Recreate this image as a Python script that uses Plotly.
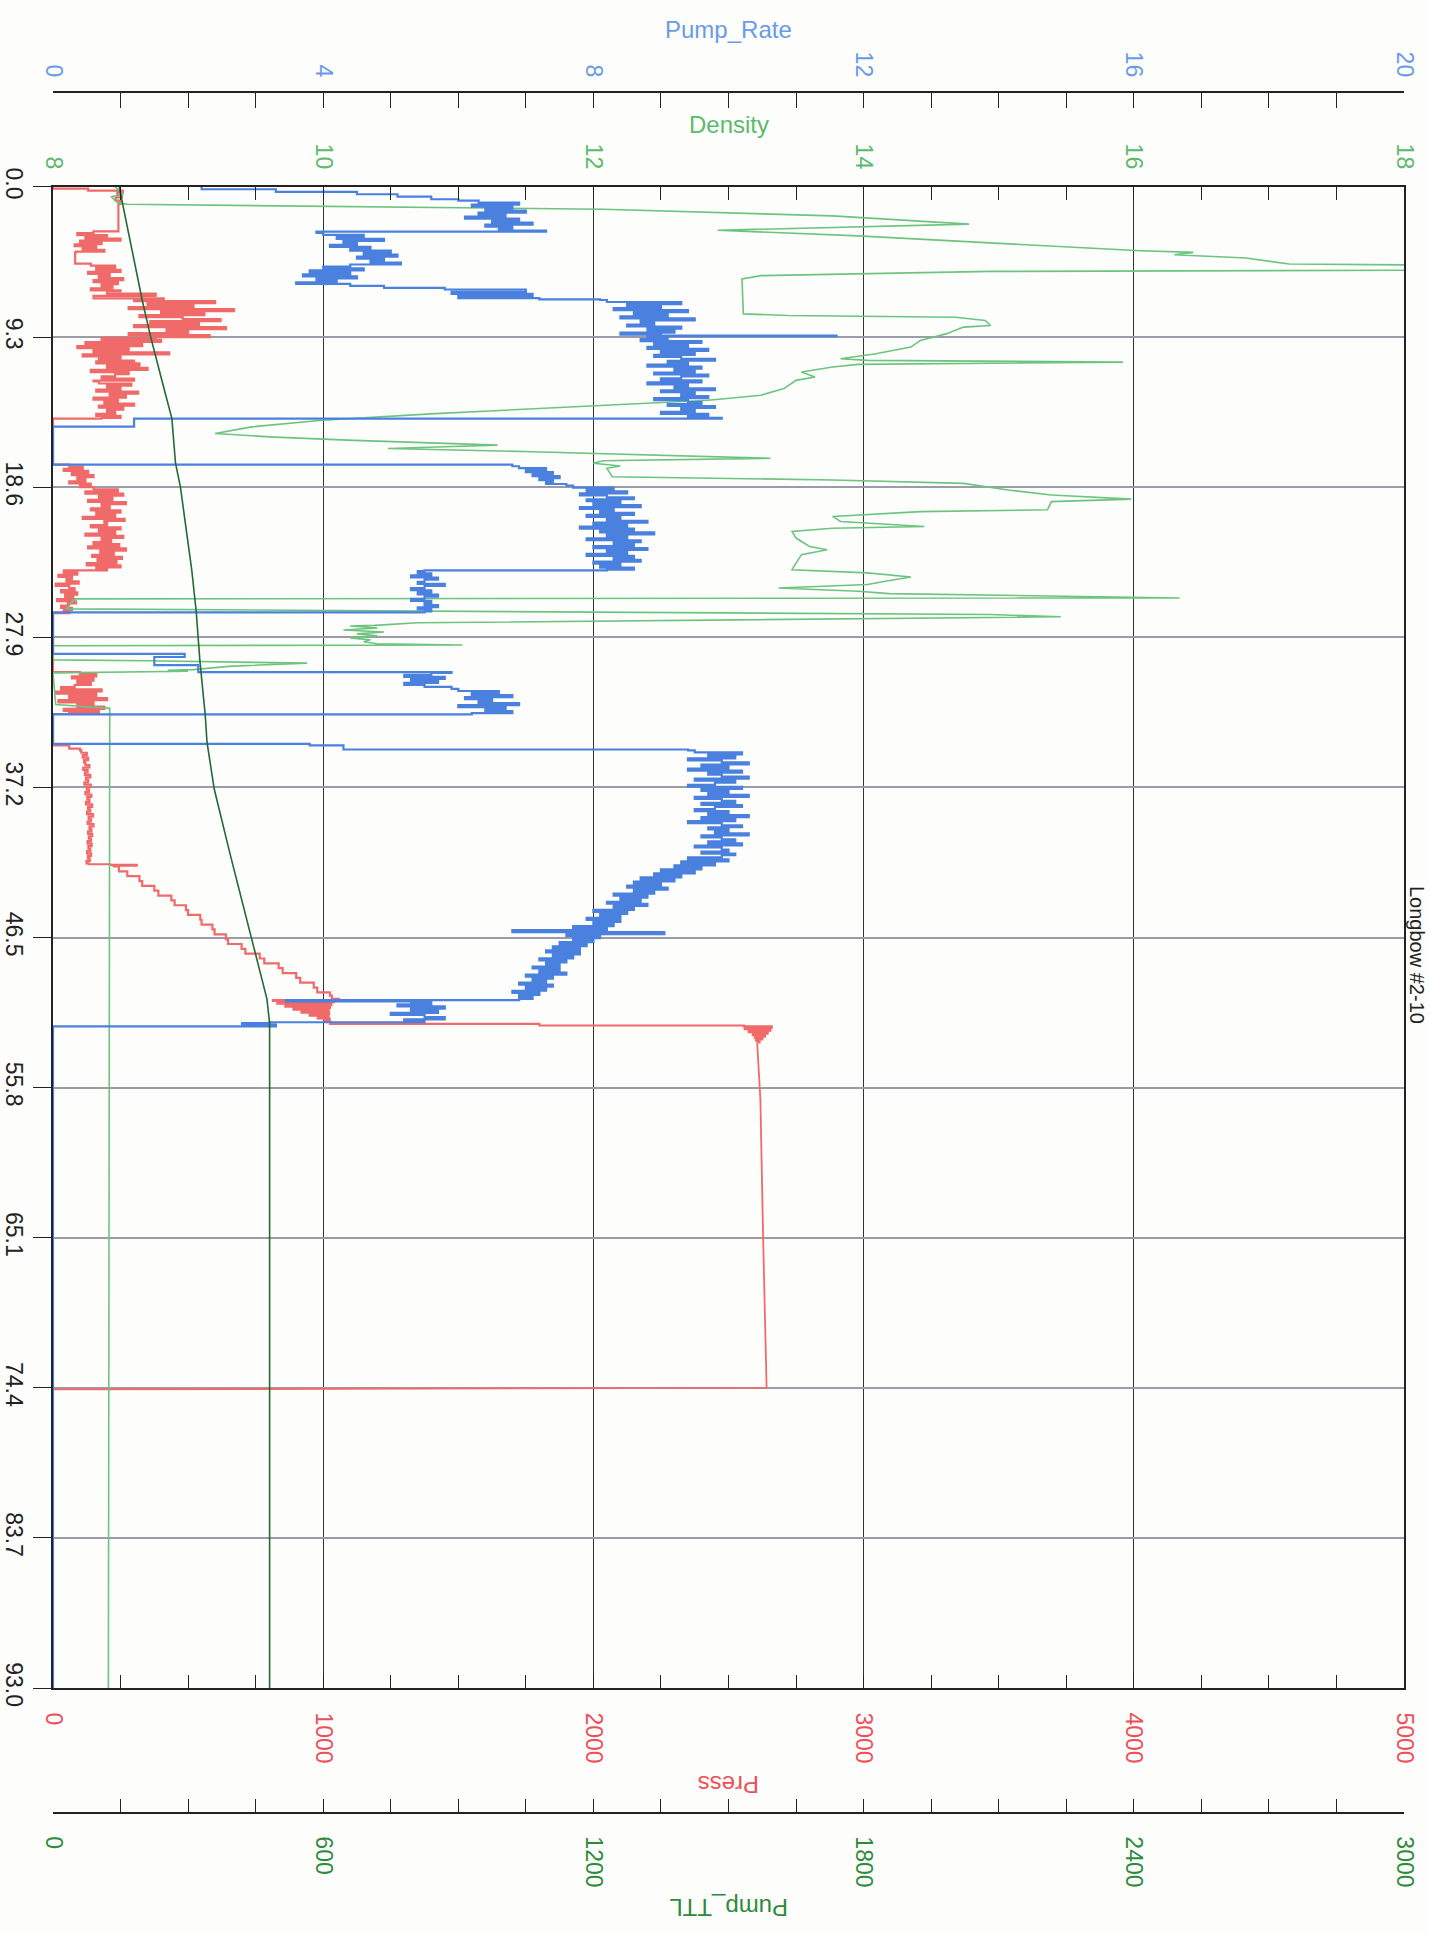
import numpy as np
import plotly.graph_objects as go

FONT = "Liberation Sans"

# ---------------- axis ticks ----------------
time_ticks = [0.0, 9.3, 18.6, 27.9, 37.2, 46.5, 55.8, 65.1, 74.4, 83.7, 93.0]
time_labels = ["0.0", "9.3", "18.6", "27.9", "37.2", "46.5", "55.8", "65.1", "74.4", "83.7", "93.0"]
press_ticks = [0, 1000, 2000, 3000, 4000, 5000]
rate_ticks = [0, 4, 8, 12, 16, 20]
density_ticks = [8, 10, 12, 14, 16, 18]
ttl_ticks = [0, 600, 1200, 1800, 2400, 3000]

# ---------------- Pump_Rate ----------------
rate_a_t = [0.0, 0.14, 0.30, 0.45, 0.60, 0.76]
rate_a_v = [2.2, 3.3, 4.5, 5.1, 5.6, 6.0]
rate_band1 = [6.3, 6.9, 6.2, 6.8, 6.4, 7.0, 6.3, 6.7, 6.1, 6.9, 6.5, 7.1, 6.4, 6.8, 6.6, 7.3]  # 0.85-2.70
rate_b_t = [2.76]
rate_b_v = [3.9]
rate_band2 = [4.0, 4.6, 4.2, 4.9, 4.3, 4.5, 4.1, 4.7, 4.4, 5.0, 4.6, 5.1, 4.5, 4.9, 4.7, 5.15,
              4.4, 4.0, 4.6, 3.8, 4.4, 3.7, 4.5, 3.9, 4.2, 3.6]  # 2.85-5.90
rate_c_t = [6.00, 6.12, 6.25, 6.35, 6.50, 6.62, 6.75, 6.88, 6.96]
rate_c_v = [4.4, 4.9, 5.8, 7.0, 5.9, 7.1, 6.0, 7.2, 8.1]
rate_band3 = [8.2, 9.3, 8.5, 9.0, 8.3, 9.4, 8.6, 9.1, 8.4, 9.5, 8.7, 8.9, 8.5, 9.3, 8.8, 9.2, 8.4, 9.0]  # 7.0-9.15
rate_d_t = [9.20, 9.24]
rate_d_v = [11.6, 8.8]
rate_band4 = [9.1, 8.7, 9.6, 8.9, 9.4, 8.8, 9.7, 9.0, 9.5, 8.9, 9.3, 9.8, 9.1, 9.4, 8.8, 9.6, 9.2, 9.5,
              8.9, 9.7, 9.3, 9.0, 9.6, 8.8, 9.4, 9.2, 9.8, 9.0, 9.5, 9.3, 9.7, 8.9, 9.4, 9.6, 9.1, 9.8,
              9.3, 9.5, 9.0, 9.7, 9.4, 9.9]  # 9.3-14.3
rate_e_t = [14.35, 14.80, 14.85, 17.10, 17.20]
rate_e_v = [1.2, 1.2, 0.0, 0.0, 6.8]
rate_band5 = [6.9, 7.3, 7.0, 7.4, 7.1, 7.5, 7.2, 7.4, 7.3, 7.6]  # 17.3-18.4
rate_band6 = [7.7, 8.3, 7.9, 8.5, 7.8, 8.2, 8.6, 7.9, 8.4, 8.0, 8.7, 7.8, 8.3, 8.1, 8.6, 7.9, 8.4, 8.2,
              8.8, 8.0, 8.5, 7.8, 8.6, 8.1, 8.9, 8.2, 8.5, 7.9, 8.7, 8.3, 8.6, 8.0, 8.8, 8.2, 8.5, 7.9,
              8.6, 8.3, 8.7, 8.0, 8.4, 8.1, 8.6, 8.2]  # 18.5-23.7
rate_f_t = [23.75]
rate_f_v = [5.5]
rate_band7 = [5.4, 5.6, 5.3, 5.7, 5.5, 5.4, 5.8, 5.5, 5.3, 5.6, 5.4, 5.7, 5.5, 5.3, 5.6, 5.5, 5.7, 5.4,
              5.6, 5.5]  # 23.8-26.3
rate_g_t = [26.35, 28.90, 28.93, 29.10, 29.12, 29.60, 29.62, 30.00, 30.06]
rate_g_v = [0.0, 0.0, 1.95, 1.95, 1.5, 1.5, 2.15, 2.15, 5.9]
rate_band8 = [5.6, 5.2, 5.8, 5.3, 5.7, 5.2, 5.5, 5.9, 6.0, 6.6, 6.2, 6.8, 6.1, 6.5, 6.3, 6.9, 6.0,
              6.7, 6.4, 6.8, 6.2]  # 30.1-32.6
rate_h_t = [32.67, 34.44, 34.50, 34.60, 34.85]
rate_h_v = [0.0, 0.0, 3.8, 4.3, 9.4]
rate_band9 = [9.5, 10.2, 9.7, 10.1, 9.4, 9.9, 10.3, 9.6, 10.0, 9.4, 10.2, 9.7, 9.9, 10.3, 9.5, 10.1,
              9.8, 9.4, 10.2, 9.6, 10.0, 9.7, 10.3, 9.5, 9.9, 10.1, 9.6, 10.2, 9.8, 9.5, 10.0, 9.7,
              10.3, 9.6, 10.1, 9.4, 9.9, 10.2, 9.7, 10.0, 9.8, 10.3, 9.6, 9.9, 10.1, 9.7, 10.2, 9.5,
              9.9, 10.0, 9.6, 10.1]  # 34.9-41.3
rate_band10 = [9.9, 9.4, 10.0, 9.3, 9.8, 9.2, 9.6,
               9.0, 9.5, 8.9, 9.3, 8.7, 9.2, 8.6, 9.0,
               8.5, 9.1, 8.6, 8.9, 8.3, 8.8, 8.4, 8.7,
               8.2, 8.8, 8.3, 8.6, 8.0, 8.5, 8.1, 8.4,
               7.9, 8.4, 8.0, 8.3, 7.7, 8.2, 6.8, 9.05,
               7.6, 8.1, 7.7, 8.0, 7.5, 7.9, 7.4, 7.8,
               7.3, 7.8, 7.4, 7.7, 7.2, 7.6, 7.3, 7.5,
               7.1, 7.5, 7.2, 7.6, 7.0, 7.4, 7.1, 7.3,
               6.9, 7.4, 7.0, 7.3, 6.8, 7.2, 6.9, 7.1, 6.9]  # 41.4-50.3
rate_i_t = [50.38, 50.45]
rate_i_v = [3.45, 5.3]
rate_band11 = [5.6, 5.1, 5.8, 5.3, 5.7, 5.0, 5.5, 5.8, 5.2, 5.5]  # 50.5-51.7
rate_j_t = [51.75, 51.80, 51.90, 52.00, 93.0]
rate_j_v = [3.2, 2.8, 3.3, 0.0, 0.0]

# ---------------- Press ----------------
press_a_t = [0.0, 0.10, 0.22, 0.35, 0.50, 0.65, 0.85, 1.05, 2.70]
press_a_v = [0, 130, 258, 238, 255, 232, 250, 242, 242]
press_band1 = [150, 90, 200, 120, 250, 100, 180, 80, 160, 110, 190, 85]  # 2.75-4.0
press_b_t = [4.05, 4.70]
press_b_v = [82, 82]
press_band2 = [140, 230, 160, 250, 130, 210, 170, 260, 150, 240, 180, 220, 140, 250]  # 4.75-6.40
press_band3 = [200, 380, 150, 410]  # 6.45-6.90
press_band4 = [300, 600, 350, 520, 280, 670, 400, 560, 320, 480, 620, 360, 540, 300, 640, 420, 500,
               280, 580, 380]  # 6.95-9.30
press_band5 = [180, 400, 120, 330, 90, 280, 150, 430, 110, 250, 170, 300]  # 9.35-10.75
press_band6 = [160, 320, 200, 350, 140, 280, 230, 180, 300, 150]  # 10.8-12.0
press_band7 = [170, 290, 200, 250, 160, 315, 210, 270, 150, 240, 190, 300, 170, 260, 200, 230, 160,
               250, 180]  # 12.05-14.3
press_c_t = [14.35, 17.15]
press_c_v = [0, 0]
press_band8 = [60, 110, 40, 130, 70, 150, 90, 120, 60, 140, 100]  # 17.2-18.5
press_band9 = [150, 240, 120, 260, 170, 220, 130, 270, 180, 210, 140, 250, 160, 230, 110, 265, 190,
               200, 140, 250, 170, 230, 120, 260, 180, 215, 150, 245, 130, 270, 175, 225, 145, 255,
               165, 235, 125, 250, 160, 200]  # 18.6-23.7
press_band10 = [40, 90, 20, 70, 50, 95, 10, 60, 80, 30, 90, 45, 75, 15, 85, 55, 30, 70, 40, 60]  # 23.75-26.35
press_d_t = [26.40, 30.0]
press_d_v = [0, 0]
press_band11 = [100, 160, 70, 150, 90, 140, 80, 30, 180, 10, 160, 60, 200, 20, 150, 90, 190, 40,
                170, 60]  # 30.05-32.6
press_e_t = [32.65, 34.45, 34.60, 34.80]
press_e_v = [0, 0, 60, 100]
press_band12 = [105, 125, 110, 130, 115, 120, 135, 112, 128, 118, 138, 122, 130, 116, 140, 125, 133,
                120, 142, 127, 135, 122, 145, 130, 138, 126, 148, 132, 140, 128, 150, 135, 142, 130,
                145, 133, 140, 128, 143, 131, 138, 126, 141, 129, 136, 124, 132]  # 34.9-41.9
press_f_t = [41.96, 42.00, 42.05, 42.10, 42.40, 42.70, 43.00, 43.30, 43.60, 43.90, 44.20, 44.50,
             44.80, 45.10, 45.40, 45.70, 46.00, 46.30, 46.60, 46.90, 47.20, 47.50, 47.80, 48.10,
             48.40, 48.70, 49.00, 49.30, 49.60, 49.90, 50.10, 50.30, 50.38]
press_f_v = [212, 310, 225, 244, 275, 320, 330, 375, 390, 438, 450, 492, 500, 545, 550, 590, 598,
             640, 648, 698, 712, 765, 782, 835, 850, 900, 915, 965, 978, 1025, 1032, 1058, 814]
press_band13 = [1040, 830, 1030, 860, 1025, 890, 1020, 920, 1022, 950, 1020, 980, 1024, 1005, 1026]  # 50.42-51.70
press_g_t = [51.75, 51.85, 51.95]
press_g_v = [1026, 1800, 2557]
press_band14 = [2660, 2560, 2655, 2575, 2645, 2590, 2635, 2598, 2625, 2603, 2615, 2606]  # 52.0-53.0
# steady section after the pressure test starts (drawn as a plain line)
press_h_t = [53.0, 56.5, 65.0, 74.4, 74.5, 93.0]
press_h_v = [2606, 2618, 2628, 2641, 0, 0]

# ---------------- Density ----------------
dens_a_t = [0.0, 0.45, 0.60, 0.76, 0.97, 1.07, 1.38, 1.79, 2.10, 2.30, 2.68, 3.03, 3.75, 3.95, 4.05,
            4.20, 4.40, 4.63, 4.77, 4.86, 5.02, 5.15, 5.23, 5.49, 5.70, 7.86, 7.96, 8.07, 8.27, 8.58,
            8.68, 9.10, 9.51, 9.92, 10.33, 10.64, 10.74, 10.85, 10.91, 10.99, 11.15, 11.46, 11.77,
            11.98, 12.49, 12.90, 13.21, 13.62, 14.04, 14.45, 14.86, 15.27, 15.48, 15.68, 15.99,
            16.09, 16.20, 16.40, 16.61, 16.81, 16.96, 17.12, 17.29, 17.43, 17.95, 18.15, 18.36,
            18.77, 19.08, 19.34, 19.49, 20.00, 20.11, 20.41, 20.72, 21.03, 21.14, 21.34, 21.75,
            22.27, 22.47, 22.78, 23.30, 23.71, 23.91, 24.16, 24.43, 24.63, 24.84, 25.05, 25.19,
            25.35, 25.46, 25.52, 26.14, 26.49, 26.63, 27.00, 27.16]
dens_a_v = [8.46, 8.52, 8.43, 8.45, 8.48, 8.55, 12.07, 13.77, 14.42, 14.78, 12.92, 13.96, 15.59,
            16.05, 16.44, 16.30, 16.83, 17.02, 17.15, 18.5, 18.5, 18.3, 14.94, 13.24, 13.10, 13.11,
            13.44, 14.68, 14.90, 14.94, 14.74, 14.61, 14.42, 14.35, 14.09, 13.83, 14.03, 15.92,
            15.07, 13.96, 13.77, 13.54, 13.64, 13.50, 13.41, 13.24, 12.85, 11.81, 10.83, 9.99,
            9.47, 9.20, 9.60, 10.18, 11.29, 10.90, 10.48, 11.55, 12.46, 13.31, 12.07, 12.00,
            12.20, 12.10, 12.14, 13.77, 14.74, 15.07, 15.39, 15.98, 15.39, 15.36, 14.42, 13.77,
            13.83, 14.45, 13.77, 13.47, 13.50, 13.60, 13.73, 13.54, 13.50, 13.47, 14.03, 14.35,
            14.16, 14.03, 13.37, 13.96, 14.19, 15.72, 16.34, 8.16, 8.10, 14.94, 15.46, 10.70, 10.38]
dens_band1 = [10.2, 10.4, 10.15, 10.45, 10.25, 10.4, 10.2, 10.35, 10.3, 10.4]  # 27.2-28.3
dens_b_t = [28.38, 28.42, 29.30, 29.35, 29.50, 29.70, 29.90, 29.95, 30.00, 30.10, 32.07, 32.30, 93.0]
dens_b_v = [11.03, 8.0, 8.0, 8.7, 9.88, 9.3, 9.04, 8.85, 9.0, 8.0, 8.02, 8.42, 8.41]

# ---------------- Pump_TTL ----------------
ttl_t = [0.0, 2.7, 5.9, 7.0, 9.3, 12.0, 14.35, 17.1, 18.6, 23.7, 26.3, 29.3, 32.7, 34.4, 37.3,
         41.3, 46.5, 50.3, 51.8, 93.0]
ttl_v = [147, 166, 190, 198, 217, 242, 264, 272, 283, 308, 318, 326, 338, 342, 358, 393, 440, 475,
         481, 481]


def assemble(pieces):
    ts, vs = [], []
    for p in pieces:
        if p[0] == "p":
            ts += list(p[1]); vs += list(p[2])
        else:
            _, t0, t1, vals = p
            ts += np.linspace(t0, t1, len(vals)).tolist(); vs += list(vals)
    return ts, vs


rate_t, rate_v = assemble([
    ("p", rate_a_t, rate_a_v), ("b", 0.85, 2.70, rate_band1), ("p", rate_b_t, rate_b_v),
    ("b", 2.85, 5.90, rate_band2), ("p", rate_c_t, rate_c_v), ("b", 7.0, 9.15, rate_band3),
    ("p", rate_d_t, rate_d_v), ("b", 9.3, 14.3, rate_band4), ("p", rate_e_t, rate_e_v),
    ("b", 17.3, 18.4, rate_band5), ("b", 18.5, 23.7, rate_band6), ("p", rate_f_t, rate_f_v),
    ("b", 23.8, 26.3, rate_band7), ("p", rate_g_t, rate_g_v), ("b", 30.1, 32.6, rate_band8),
    ("p", rate_h_t, rate_h_v), ("b", 34.9, 41.3, rate_band9), ("b", 41.4, 50.3, rate_band10),
    ("p", rate_i_t, rate_i_v), ("b", 50.5, 51.7, rate_band11), ("p", rate_j_t, rate_j_v),
])

press_t, press_v = assemble([
    ("p", press_a_t, press_a_v), ("b", 2.75, 4.0, press_band1), ("p", press_b_t, press_b_v),
    ("b", 4.75, 6.40, press_band2), ("b", 6.45, 6.90, press_band3), ("b", 6.95, 9.30, press_band4),
    ("b", 9.35, 10.75, press_band5), ("b", 10.8, 12.0, press_band6), ("b", 12.05, 14.3, press_band7),
    ("p", press_c_t, press_c_v), ("b", 17.2, 18.5, press_band8), ("b", 18.6, 23.7, press_band9),
    ("b", 23.75, 26.35, press_band10), ("p", press_d_t, press_d_v), ("b", 30.05, 32.6, press_band11),
    ("p", press_e_t, press_e_v), ("b", 34.9, 41.9, press_band12), ("p", press_f_t, press_f_v),
    ("b", 50.42, 51.70, press_band13), ("p", press_g_t, press_g_v), ("b", 52.0, 53.0, press_band14),
])

dens_t, dens_v = assemble([
    ("p", dens_a_t, dens_a_v), ("b", 27.2, 28.3, dens_band1), ("p", dens_b_t, dens_b_v),
])

C_PRESS = "#f06a6a"
C_RATE = "#4a80de"
C_DENS = "#6cc47e"
C_TTL = "#23693a"
T_PRESS = "#ee4f5a"
T_RATE = "#6a9be8"
T_DENS = "#5cba6c"
T_TTL = "#2e8b3c"

fig = go.Figure()
fig.add_trace(go.Scatter(x=press_v, y=press_t, mode="lines", name="Press",
                         line=dict(color=C_PRESS, width=2.2, shape="vh"), xaxis="x", yaxis="y"))
fig.add_trace(go.Scatter(x=press_h_v, y=press_h_t, mode="lines", name="Press", showlegend=False,
                         line=dict(color=C_PRESS, width=1.8), xaxis="x", yaxis="y"))
fig.add_trace(go.Scatter(x=dens_v, y=dens_t, mode="lines", name="Density",
                         line=dict(color=C_DENS, width=1.6), xaxis="x2", yaxis="y"))
fig.add_trace(go.Scatter(x=rate_v, y=rate_t, mode="lines", name="Pump_Rate",
                         line=dict(color=C_RATE, width=2.2, shape="vh"), xaxis="x3", yaxis="y"))
fig.add_trace(go.Scatter(x=ttl_v, y=ttl_t, mode="lines", name="Pump_TTL",
                         line=dict(color=C_TTL, width=1.6), xaxis="x4", yaxis="y"))

TICKF = 23
common_x = dict(tickangle=90, ticks="inside", ticklen=13, tickcolor="#222", tickwidth=1.2,
                showline=True, linecolor="#222", linewidth=1.5, zeroline=False, automargin=False)

fig.update_layout(
    width=1429, height=1934,
    margin=dict(l=53, r=25, t=92, b=121, autoexpand=False),
    paper_bgcolor="#fdfdfb", plot_bgcolor="#fdfdfb",
    showlegend=False,
    font=dict(family=FONT, size=TICKF, color="#222"),
    yaxis=dict(domain=[0.0726, 0.9448], range=[93, 0], tickmode="array", tickvals=time_ticks,
               ticktext=time_labels, tickangle=90, ticks="outside", ticklen=18, tickcolor="#222",
               showline=True, linecolor="#222", linewidth=1.5, mirror=True, automargin=False,
               showgrid=True, gridcolor="#9c9ca8", gridwidth=2, zeroline=False,
               tickfont=dict(size=TICKF, color="#222")),
    xaxis=dict(anchor="y", side="bottom", range=[0, 5000], tickmode="array", tickvals=press_ticks,
               showgrid=True, gridcolor="#333333", gridwidth=1,
               minor=dict(dtick=250, ticks="inside", ticklen=13, tickcolor="#222", showgrid=False),
               tickfont=dict(size=TICKF, color=T_PRESS), ticklabelstandoff=18, **common_x),
    xaxis2=dict(overlaying="x", anchor="y", side="top", range=[8, 18], tickmode="array",
                tickvals=density_ticks, showgrid=False,
                minor=dict(dtick=0.5, ticks="inside", ticklen=13, tickcolor="#222", showgrid=False),
                tickfont=dict(size=TICKF, color=T_DENS), ticklabelstandoff=8, **common_x),
    xaxis3=dict(overlaying="x", anchor="free", position=1.0, side="top", range=[0, 20],
                tickmode="array", tickvals=rate_ticks, showgrid=False,
                minor=dict(dtick=1, ticks="inside", ticklen=15, tickcolor="#222", showgrid=False),
                tickfont=dict(size=TICKF, color=T_RATE), ticklabelstandoff=6, **common_x),
    xaxis4=dict(overlaying="x", anchor="free", position=0.0, side="bottom", range=[0, 3000],
                tickmode="array", tickvals=ttl_ticks, showgrid=False,
                minor=dict(dtick=150, ticks="inside", ticklen=13, tickcolor="#222", showgrid=False),
                tickfont=dict(size=TICKF, color=T_TTL), ticklabelstandoff=18, **common_x),
)

PH = 1721.0
def py(pix):
    return (1813.0 - pix) / PH

annots = [
    dict(text="Pump_Rate", x=0.5, y=py(30), color=T_RATE, angle=0),
    dict(text="Density", x=0.5, y=py(125), color=T_DENS, angle=0),
    dict(text="Press", x=0.5, y=py(1785), color=T_PRESS, angle=180),
    dict(text="Pump_TTL", x=0.5, y=py(1908), color=T_TTL, angle=180),
]
for a in annots:
    fig.add_annotation(text=a["text"], x=a["x"], y=a["y"], xref="paper", yref="paper",
                       showarrow=False, xanchor="center", yanchor="middle", textangle=a["angle"],
                       font=dict(family=FONT, size=24, color=a["color"]))

fig.add_annotation(text="Longbow #2-10", x=(1417 - 53) / 1351.0, y=py(955), xref="paper",
                   yref="paper", showarrow=False, xanchor="center", yanchor="middle", textangle=90,
                   borderpad=0, font=dict(family=FONT, size=20, color="#222"))

fig.write_html("out.html", config={"displayModeBar": False},
               post_script="document.body.style.margin='0';")
